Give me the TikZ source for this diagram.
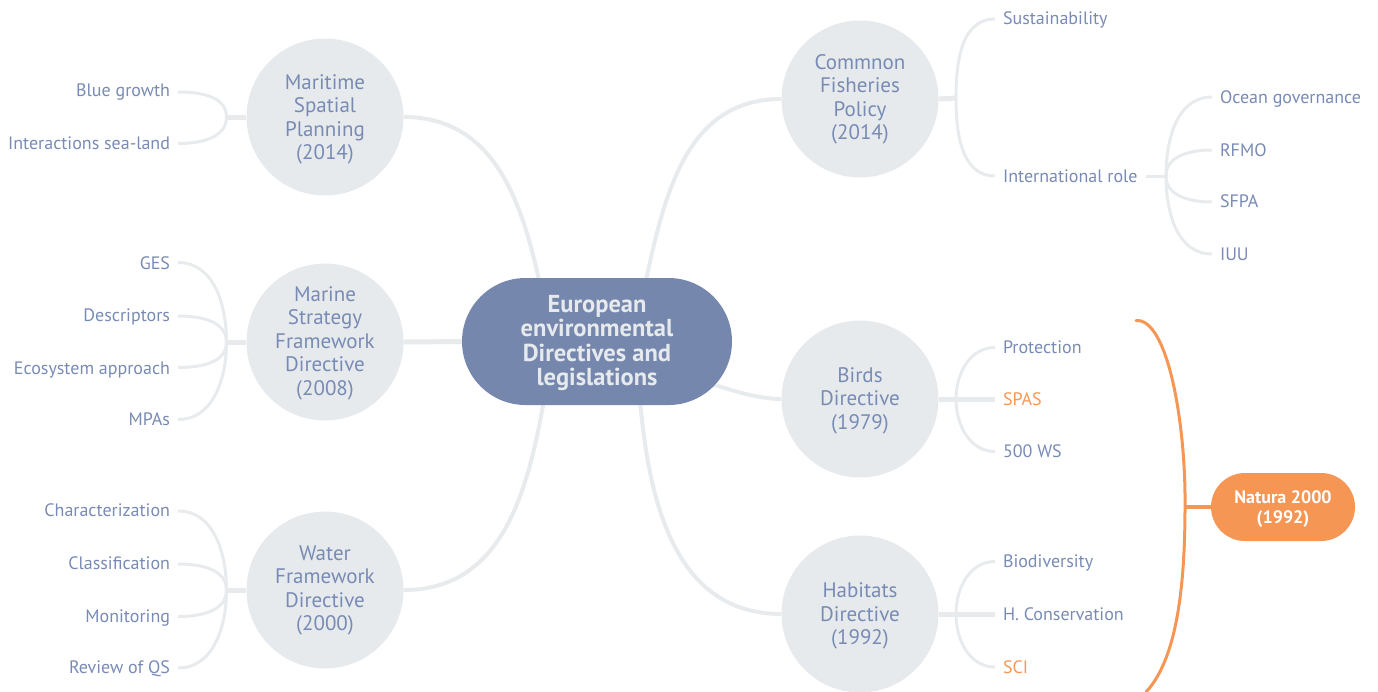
\documentclass[tikz,border=0pt]{standalone}
\usepackage{fontspec}
\setmainfont{PT Sans}
\usetikzlibrary{shapes.misc,backgrounds}
\definecolor{lineg}{HTML}{E8EBEE}
\definecolor{circg}{HTML}{E6EAED}
\definecolor{textb}{HTML}{788BB4}
\definecolor{centb}{HTML}{7687AE}
\definecolor{orng}{HTML}{F59655}
\tikzset{
 x=1pt,y=-1pt,
 topic/.style={circle,fill=circg,minimum size=157pt,inner sep=0pt,align=center,text=textb,text depth=0pt,font=\fontsize{21}{23.5}\selectfont},
 hubnode/.style={rounded rectangle,fill=centb,minimum width=270pt,minimum height=127pt,inner sep=0pt,align=center,text=circg,text depth=2pt,font=\fontsize{24.5}{24.3}\selectfont\bfseries},
 natnode/.style={rounded rectangle,fill=orng,minimum width=144pt,minimum height=68pt,inner sep=0pt,align=center,text=white,text depth=0pt,font=\fontsize{18}{19.5}\selectfont\bfseries},
 lleaf/.style={anchor=east,inner sep=0pt,outer xsep=8pt,text height=14pt,text depth=2pt,text=textb,font=\fontsize{18}{20}\selectfont},
 rleaf/.style={anchor=west,inner sep=0pt,outer xsep=8pt,text height=14pt,text depth=2pt,text=textb,font=\fontsize{18}{20}\selectfont},
 orleaf/.style={rleaf,text=orng},
 main/.style={draw=lineg,line width=4pt},
 twig/.style={draw=lineg,line width=3pt},
 stem/.style={draw=lineg,line width=5pt},
 brace/.style={draw=orng,line width=3pt},
}
\begin{document}
\begin{tikzpicture}
\path[use as bounding box] (0,0) rectangle (1378,691);
% central
\node[hubnode] (c) at (597,341.5) {European\\environmental\\Directives and\\legislations};
\node[natnode] (nat) at (1283,507) {Natura 2000\\(1992)};
% topics
\node[topic] (msp) at (325,117) {Maritime\\Spatial\\Planning\\(2014)};
\node[topic,text depth=2pt] (msfd) at (325,342) {Marine\\Strategy\\Framework\\Directive\\(2008)};
\node[topic,text depth=4pt] (wfd) at (325,590) {Water\\Framework\\Directive\\(2000)};
\node[topic,text depth=4pt] (cfp) at (860,99) {Commnon\\Fisheries\\Policy\\(2014)};
\node[topic,text depth=1pt] (bd) at (860,399) {Birds\\Directive\\(1979)};
\node[topic] (hd) at (860,614) {Habitats\\Directive\\(1992)};
% left leaves
\node[lleaf,text depth=6pt] (l1) at (178,92) {Blue growth};
\node[lleaf] (l2) at (178,143.5) {Interactions sea-land};
\node[lleaf,text depth=0pt] (l3) at (178,262.5) {GES};
\node[lleaf,text depth=4pt] (l4) at (178,316) {Descriptors};
\node[lleaf,text depth=0pt] (l5) at (178,367.5) {Ecosystem approach};
\node[lleaf] (l6) at (178,419.5) {MPAs};
\node[lleaf,text depth=4pt] (l7) at (178,511) {Characterization};
\node[lleaf,text depth=4pt] (l8) at (178,564) {Classification};
\node[lleaf] (l9) at (178,616.5) {Monitoring};
\node[lleaf,text depth=4pt] (l10) at (178,668) {Review of QS};
% right leaves
\node[rleaf,text depth=4pt] (r1) at (995,19) {Sustainability};
\node[rleaf] (r2) at (995,176) {International role};
\node[rleaf] (r3) at (1212,97) {Ocean governance};
\node[rleaf] (r4) at (1212,150) {RFMO};
\node[rleaf,text depth=4pt] (r5) at (1212,202) {SFPA};
\node[rleaf] (r6) at (1212,254) {IUU};
\node[rleaf] (r7) at (995,347.5) {Protection};
\node[orleaf] (r8) at (995,399) {SPAS};
\node[rleaf] (r9) at (995,451.5) {500 WS};
\node[rleaf] (r10) at (995,561.5) {Biodiversity};
\node[rleaf] (r11) at (995,614) {H. Conservation};
\node[orleaf] (r12) at (995,667) {SCI};
% hubs
\coordinate (h1) at (226.5,117);
\coordinate (h2) at (226.5,342);
\coordinate (h3) at (226.5,590);
\coordinate (h4) at (956,98);
\coordinate (h5) at (1166,176);
\coordinate (h6) at (956,399);
\coordinate (h7) at (956,614);
\coordinate (k1) at (540,285);
\coordinate (k2) at (645,285);
\coordinate (k3) at (544,400);
\coordinate (k4) at (640,400);
\coordinate (k5) at (712,384);
\coordinate (bt) at (1136,320.5);
\coordinate (bm) at (1185,507);
\coordinate (bb) at (1146,692);
\begin{scope}[on background layer]
\draw[main] (msp.east) to[out=0,in=102,looseness=1.05] (k1);
\draw[stem] (msfd.east) -- (c.west);
\draw[main] (wfd.east) to[out=0,in=-100,looseness=1.05] (k3);
\draw[main] (cfp.west) to[out=180,in=78,looseness=1.05] (k2);
\draw[main] (bd.west) to[out=180,in=-18,looseness=.8] (k5);
\draw[main] (hd.west) to[out=180,in=-85,looseness=1.05] (k4);
\draw[stem] (msp.west) -- (h1);
\draw[stem] (msfd.west) -- (h2);
\draw[stem] (wfd.west) -- (h3);
\draw[stem] (cfp.east) -- (h4);
\draw[stem] (bd.east) -- (r8.west);
\draw[stem] (hd.east) -- (r11.west);
\draw[twig] (r2.east) -- (h5);
\end{scope}
\foreach \a/\h/\d in {l1/h1/90,l2/h1/-90,l3/h2/90,l4/h2/90,l5/h2/-90,l6/h2/-90,l7/h3/90,l8/h3/90,l9/h3/-90,l10/h3/-90}
  \draw[twig] (\a.east) to[out=0,in=\d] (\h);
\foreach \a/\h/\d in {r1/h4/90,r2/h4/-90,r3/h5/90,r4/h5/90,r5/h5/-90,r6/h5/-90,r7/h6/90,r9/h6/-90,r10/h7/90,r12/h7/-90}
  \draw[twig] (\a.west) to[out=180,in=\d] (\h);
% natura brace
\draw[brace,line cap=round] (bt) .. controls (1168,318) and (1186,425) .. (bm) .. controls (1185,590) and (1176,660) .. (bb);
\draw[brace,line width=4pt] (bm) -- (nat.west);
\end{tikzpicture}
\end{document}
